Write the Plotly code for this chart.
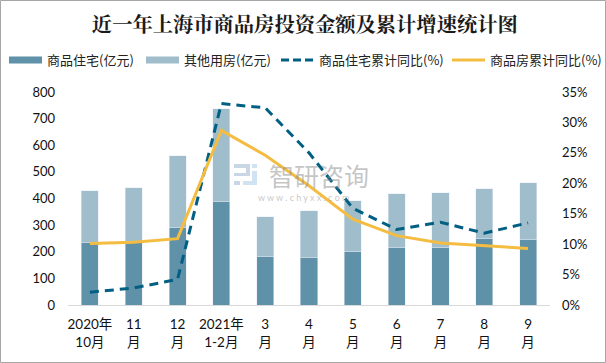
import plotly.graph_objects as go

categories = ["2020年<br>10月", "11<br>月", "12<br>月", "2021年<br>1-2月", "3<br>月", "4<br>月", "5<br>月", "6<br>月", "7<br>月", "8<br>月", "9<br>月"]
residential = [233, 233, 290, 388, 181, 177, 200, 215, 215, 249, 245]
other = [197, 208, 271, 350, 151, 177, 192, 203, 207, 188, 215]
residential_yoy = [2.1, 2.8, 4.2, 33.1, 32.4, 25.0, 15.9, 12.4, 13.6, 11.8, 13.5]
commercial_yoy = [10.1, 10.3, 10.9, 28.7, 24.6, 19.6, 14.1, 11.4, 10.2, 9.7, 9.3]

names = ["商品住宅(亿元)", "其他用房(亿元)", "商品住宅累计同比(%)", "商品房累计同比(%)"]
FONT = "Lato, Noto Sans CJK SC"
C1, C2, C3, C4 = "#5f91a8", "#9fbdcb", "#005f82", "#f4bd42"
W, H = 606, 363
L, R, T, B = 68, 56, 92, 58
PW, PH = W - L - R, H - T - B

def px(x):
    return (x - L) / PW

def py(y):
    return (H - B - y) / PH

fig = go.Figure()
fig.add_bar(x=categories, y=residential, marker_color=C1, showlegend=False, width=0.39)
fig.add_bar(x=categories, y=other, marker_color=C2, showlegend=False, width=0.39)
fig.add_scatter(x=categories, y=residential_yoy, yaxis="y2", mode="lines", showlegend=False,
                line=dict(color=C3, width=3, dash="9px,6px"))
fig.add_scatter(x=categories, y=commercial_yoy, yaxis="y2", mode="lines", showlegend=False,
                line=dict(color=C4, width=3))
legend_ids = ["legend", "legend2", "legend3", "legend4"]
legend_x = [4, 141, 276, 447]
legends = {}
for n, c, w, d, lid, lx in zip(names, [C1, C2, C3, C4], [7, 7, 3, 3], ["solid", "solid", "8px,4px", "solid"], legend_ids, legend_x):
    fig.add_scatter(x=[None], y=[None], mode="lines", name=n, legend=lid, line=dict(color=c, width=w, dash=d))
    legends[lid] = dict(xref="container", yref="container", x=lx / W, y=1 - 60 / H, xanchor="left", yanchor="middle",
                        itemwidth=33, font=dict(size=13, family="Noto Sans CJK SC", color="#222"), bgcolor="rgba(0,0,0,0)")

def rect(x0, y0, x1, y1, color):
    return dict(type="rect", xref="paper", yref="paper", x0=px(x0), x1=px(x1), y0=py(y0), y1=py(y1),
                line=dict(width=0), fillcolor=color, layer="below")

logo = "#c9d6e6"
logo2 = "#cfe3f2"
shapes = [
    dict(type="rect", xref="paper", yref="paper", x0=px(0.5), x1=px(W - 0.5), y0=py(0.5), y1=py(H - 0.5),
         line=dict(color="#a6a6a6", width=1), fillcolor="rgba(0,0,0,0)", layer="above"),
    rect(234, 164, 250, 168, logo), rect(246, 164, 250, 176, logo), rect(234, 173, 250, 176, logo),
    rect(234, 181, 240, 185, logo), rect(252, 164, 257, 168, logo2), rect(252, 171, 257, 185, logo2),
    rect(243, 181, 257, 185, logo2),
]

fig.update_layout(
    width=W, height=H, autosize=False, barmode="stack", paper_bgcolor="white", plot_bgcolor="white",
    font=dict(family=FONT, size=13, color="#222"),
    margin=dict(l=L, r=R, t=T, b=B, autoexpand=False),
    title=dict(text="<b>近一年上海市商品房投资金额及累计增速统计图</b>", x=0.503, xanchor="center", y=0.931, yanchor="middle",
               font=dict(size=20.3, color="#1a1a1a", family="Noto Serif CJK SC, Noto Sans CJK SC")),
    xaxis=dict(showgrid=False, showline=True, linecolor="#d9d9d9", ticks="", tickangle=0, automargin=False,
               ticklabelstandoff=7, tickfont=dict(size=13.5, color="#111")),
    yaxis=dict(range=[0, 800], dtick=100, showgrid=False, zeroline=False, ticks="", automargin=False,
               ticklabelstandoff=12, tickfont=dict(size=13, color="#111")),
    yaxis2=dict(range=[0, 35], dtick=5, overlaying="y", side="right", showgrid=False, zeroline=False, ticks="",
                automargin=False, ticklabelstandoff=11, ticksuffix="%", tickfont=dict(size=13, color="#111")),
    shapes=shapes,
    annotations=[
        dict(text="智研咨询", xref="paper", yref="paper", x=px(319), y=py(175), showarrow=False, xanchor="center",
             yanchor="middle", font=dict(size=25, color="rgba(140,140,140,0.5)", family="Noto Sans CJK SC")),
        dict(text="w w w . c h y x x . c o m", xref="paper", yref="paper", x=px(303), y=py(197), showarrow=False,
             xanchor="center", yanchor="middle", font=dict(size=9, color="rgba(140,140,140,0.5)")),
    ],
    **legends,
)
fig.write_html("out.html", config={"displayModeBar": False}, post_script="document.body.style.margin='0';")
